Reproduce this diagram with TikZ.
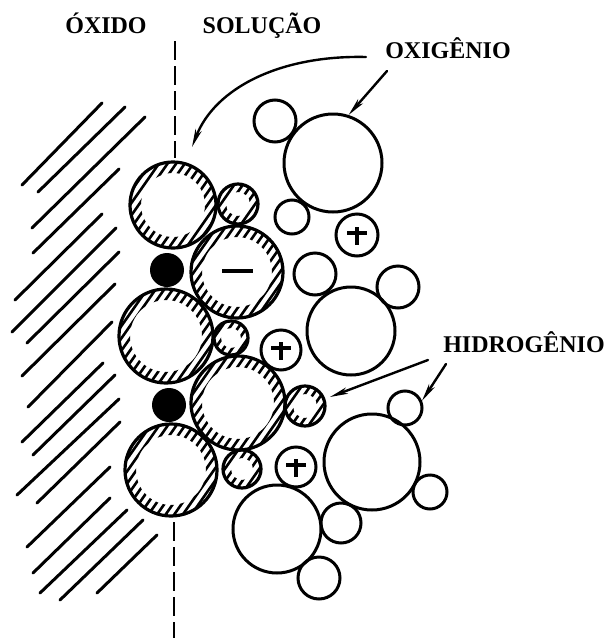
\documentclass[tikz,border=0pt]{standalone}
\usepackage{fontspec}
\setmainfont{Liberation Serif}
\usetikzlibrary{arrows.meta}
\begin{document}
\begin{tikzpicture}[x=1pt,y=-1pt,
  lbl/.style={font=\fontsize{24}{24}\selectfont\bfseries, inner sep=0pt, anchor=base},
  oxline/.style={line width=3pt, line cap=round},
  boundary/.style={line width=2.8pt, dash pattern=on 19pt off 6pt},
  ptr/.style={line width=2.4pt, line cap=round, -{Stealth[length=18pt,width=6.5pt,inset=5pt]}},
  plainball/.style={circle, draw, line width=3pt, inner sep=0pt, minimum size=2*#1pt},
  darkball/.style={circle, fill=black, inner sep=0pt, minimum size=2*#1pt},
  % water molecule: circle with a hatched rim
  hatchball/.style n args={2}{circle, draw, line width=3.2pt, inner sep=0pt,
    minimum size=2*#1pt,
    path picture={
      \begin{scope}[shift={(path picture bounding box.center)}, even odd rule]
        \clip (0pt,0pt) circle[radius=#1pt]
              (0pt,0pt) circle[radius=#1pt-#2pt];
        \foreach \k in {-9,...,9}
          \draw[line width=2.6pt, line cap=round] (\k*8.6pt,0pt) ++(235:90pt) -- ++(55:180pt);
      \end{scope}}},
  plusball/.style={plainball=#1,
    path picture={
      \begin{scope}[shift={(path picture bounding box.center)}]
        \draw[line width=3.2pt] (-10pt,2pt) -- (10pt,2pt) (0pt,8pt) -- (0pt,-10pt);
      \end{scope}}},
  sign/.style={line width=3.8pt}
]
\useasboundingbox (0,0) rectangle (610,638);

% oxide side: diagonal hatching
\foreach \xa/\ya/\xb/\yb in {
  22/185/102/103, 38/192/125/107, 32/228/145/117, 33/253/119/169,
  15/300/102/214, 12/332/116/228, 27/343/119/252, 22/376/115/284,
  28/407/112/322, 22/442/103/363, 33/455/115/375, 17/495/119/399,
  37/503/120/422, 27/547/110/467, 33/573/110/498, 40/593/127/510,
  60/600/143/520, 97/593/157/535}
  \draw[oxline] (\xa,\ya) -- (\xb,\yb);

% oxide / solution interface
\coordinate (bt1) at (175,41);
\coordinate (bt2) at (175,158);
\coordinate (bb1) at (174,522);
\coordinate (bb2) at (174,638);
\draw[boundary] (bt1) -- (bt2);
\draw[boundary] (bb1) -- (bb2);

% adsorbed water layer
\node[hatchball={43}{11}] (w1) at (173,205) {};
\node[hatchball={20}{8}]  (s1) at (238,204) {};
\node[hatchball={46}{11}] (w2) at (237,272) {};
\node[hatchball={47}{11}] (w3) at (166,336) {};
\node[hatchball={17}{7}]  (s2) at (231,338) {};
\node[hatchball={47}{11}] (w4) at (238,403) {};
\node[hatchball={20}{8}]  (s3) at (305,406) {};
\node[hatchball={46}{11}] (w5) at (171,470) {};
\node[hatchball={19}{8}]  (s4) at (242,469) {};
\draw[sign] ([xshift=-15pt,yshift=1pt]w2.center) -- ([xshift=16pt,yshift=1pt]w2.center);

% metal ions at the surface
\node[darkball=17] (m1) at (167,270) {};
\node[darkball=17] (m2) at (169,405) {};

% cations in solution
\node[plusball=21] (c1) at (357,235) {};
\node[plusball=20] (c2) at (281,350) {};
\node[plusball=20] (c3) at (296,467) {};

% free water molecules
\node[plainball=21] (ha) at (275,121) {};
\node[plainball=49] (ob) at (333,163) {};
\node[plainball=17] (hc) at (292,217) {};
\node[plainball=21] (hd) at (315,274) {};
\node[plainball=44] (oe) at (351,331) {};
\node[plainball=21] (hf) at (398,287) {};
\node[plainball=17] (hg) at (405,408) {};
\node[plainball=48] (oh) at (372,462) {};
\node[plainball=17] (hi) at (430,492) {};
\node[plainball=44] (oj) at (277,529) {};
\node[plainball=20] (hk) at (341,523) {};
\node[plainball=21] (hl) at (319,578) {};

% labels
\node[lbl] (tox)  at (106,33)  {ÓXIDO};
\node[lbl] (tsol) at (262,33)  {SOLUÇÃO};
\node[lbl] (toxy) at (448,58)  {OXIGÊNIO};
\node[lbl] (thyd) at (524,352) {HIDROGÊNIO};

% pointers
\coordinate (p1s) at (366,57);
\coordinate (p1e) at (192,147);
\coordinate (p2s) at (387,71);
\coordinate (p3s) at (428,360);
\coordinate (p3e) at (330,397);
\coordinate (p4s) at (446,364);
\draw[ptr] (p1s) .. controls (280,55) and (215,88) .. (p1e);
\draw[ptr] (p2s) -- (ob.72);
\draw[ptr] (p3s) -- (p3e);
\draw[ptr] (p4s) -- (hg.23);
\end{tikzpicture}
\end{document}
